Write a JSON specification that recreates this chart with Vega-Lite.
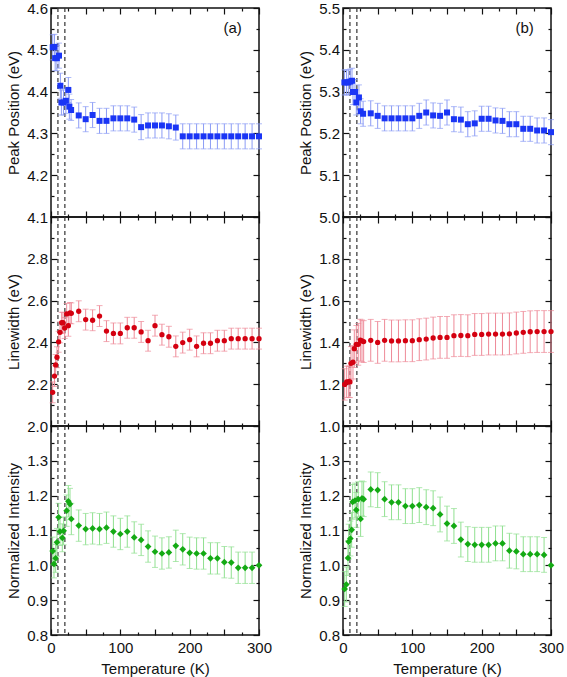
{
  "$schema": "https://vega.github.io/schema/vega-lite/v6.json",
  "background": "white",
  "padding": {"left": 5, "top": 0, "right": 10, "bottom": 0},
  "bounds": "flush",
  "columns": 2,
  "spacing": {"row": 0, "column": 84},
  "config": {
    "view": {"stroke": "#111", "strokeWidth": 1.5},
    "font": "Liberation Sans",
    "axis": {"labelFont": "Liberation Sans", "titleFont": "Liberation Sans", "labelFontSize": 15, "titleFontSize": 15, "titleFontWeight": "normal", "labelColor": "#111", "titleColor": "#111", "grid": false, "domain": false, "tickColor": "#111", "tickWidth": 1.2, "labelFlush": false, "labelOverlap": false},
    "text": {"font": "Liberation Sans"}
  },
  "datasets": {
    "lines": [{"T": 10}, {"T": 20}],
    "tag_a": [{"lbl": "(a)"}],
    "tag_b": [{"lbl": "(b)"}],
    "a_pos": [
      {"T": 2.5, "v": 4.506, "e": 0.03}, {"T": 5, "v": 4.507, "e": 0.03}, {"T": 6, "v": 4.48, "e": 0.03}, {"T": 8.5, "v": 4.48, "e": 0.03}, {"T": 11.5, "v": 4.486, "e": 0.03}, {"T": 13.5, "v": 4.414, "e": 0.03}, {"T": 15, "v": 4.374, "e": 0.03}, {"T": 18, "v": 4.374, "e": 0.03}, {"T": 21.5, "v": 4.378, "e": 0.03}, {"T": 25, "v": 4.404, "e": 0.03}, {"T": 26.5, "v": 4.364, "e": 0.03}, {"T": 29, "v": 4.356, "e": 0.025},
      {"T": 40, "v": 4.343, "e": 0.03}, {"T": 50, "v": 4.334, "e": 0.03}, {"T": 60, "v": 4.344, "e": 0.03}, {"T": 70, "v": 4.33, "e": 0.03}, {"T": 80, "v": 4.33, "e": 0.03}, {"T": 90, "v": 4.336, "e": 0.03}, {"T": 100, "v": 4.336, "e": 0.03}, {"T": 110, "v": 4.336, "e": 0.03}, {"T": 120, "v": 4.333, "e": 0.03}, {"T": 130, "v": 4.315, "e": 0.03}, {"T": 140, "v": 4.319, "e": 0.03}, {"T": 150, "v": 4.319, "e": 0.03}, {"T": 160, "v": 4.319, "e": 0.03}, {"T": 170, "v": 4.317, "e": 0.03}, {"T": 180, "v": 4.314, "e": 0.03}, {"T": 190, "v": 4.293, "e": 0.03}, {"T": 200, "v": 4.293, "e": 0.03}, {"T": 210, "v": 4.293, "e": 0.03}, {"T": 220, "v": 4.293, "e": 0.03}, {"T": 230, "v": 4.293, "e": 0.03}, {"T": 240, "v": 4.293, "e": 0.03}, {"T": 250, "v": 4.293, "e": 0.03}, {"T": 260, "v": 4.293, "e": 0.03}, {"T": 270, "v": 4.293, "e": 0.03}, {"T": 280, "v": 4.293, "e": 0.03}, {"T": 290, "v": 4.293, "e": 0.03}, {"T": 300, "v": 4.293, "e": 0.03}
    ],
    "b_pos": [
      {"T": 2, "v": 5.322, "e": 0.03}, {"T": 5, "v": 5.322, "e": 0.03}, {"T": 7.7, "v": 5.322, "e": 0.03}, {"T": 10.5, "v": 5.324, "e": 0.03}, {"T": 13, "v": 5.326, "e": 0.03}, {"T": 14.4, "v": 5.299, "e": 0.03}, {"T": 17.3, "v": 5.299, "e": 0.03}, {"T": 19.2, "v": 5.274, "e": 0.03}, {"T": 23, "v": 5.286, "e": 0.03}, {"T": 25.4, "v": 5.253, "e": 0.03}, {"T": 29, "v": 5.247, "e": 0.03},
      {"T": 40, "v": 5.248, "e": 0.03}, {"T": 50, "v": 5.242, "e": 0.03}, {"T": 60, "v": 5.236, "e": 0.03}, {"T": 70, "v": 5.236, "e": 0.03}, {"T": 80, "v": 5.236, "e": 0.03}, {"T": 90, "v": 5.236, "e": 0.03}, {"T": 100, "v": 5.236, "e": 0.03}, {"T": 110, "v": 5.242, "e": 0.03}, {"T": 120, "v": 5.25, "e": 0.03}, {"T": 130, "v": 5.243, "e": 0.03}, {"T": 140, "v": 5.242, "e": 0.03}, {"T": 150, "v": 5.25, "e": 0.03}, {"T": 160, "v": 5.234, "e": 0.03}, {"T": 170, "v": 5.233, "e": 0.03}, {"T": 180, "v": 5.222, "e": 0.03}, {"T": 190, "v": 5.224, "e": 0.03}, {"T": 200, "v": 5.235, "e": 0.03}, {"T": 210, "v": 5.235, "e": 0.03}, {"T": 220, "v": 5.231, "e": 0.03}, {"T": 230, "v": 5.23, "e": 0.03}, {"T": 240, "v": 5.222, "e": 0.03}, {"T": 250, "v": 5.222, "e": 0.03}, {"T": 260, "v": 5.211, "e": 0.03}, {"T": 270, "v": 5.211, "e": 0.03}, {"T": 280, "v": 5.207, "e": 0.03}, {"T": 290, "v": 5.207, "e": 0.03}, {"T": 300, "v": 5.203, "e": 0.03}
    ],
    "a_lw": [
      {"T": 2.4, "v": 2.161, "e": 0.05}, {"T": 5, "v": 2.239, "e": 0.05}, {"T": 6.7, "v": 2.292, "e": 0.05}, {"T": 8.6, "v": 2.329, "e": 0.05}, {"T": 11, "v": 2.403, "e": 0.05}, {"T": 13, "v": 2.448, "e": 0.05}, {"T": 15.4, "v": 2.494, "e": 0.05}, {"T": 17.3, "v": 2.494, "e": 0.05}, {"T": 19.7, "v": 2.469, "e": 0.05}, {"T": 22.6, "v": 2.536, "e": 0.05}, {"T": 25, "v": 2.48, "e": 0.05}, {"T": 27.4, "v": 2.541, "e": 0.05}, {"T": 29.3, "v": 2.539, "e": 0.05},
      {"T": 40, "v": 2.549, "e": 0.05}, {"T": 50, "v": 2.509, "e": 0.05}, {"T": 60, "v": 2.506, "e": 0.05}, {"T": 70, "v": 2.526, "e": 0.05}, {"T": 80, "v": 2.454, "e": 0.05}, {"T": 90, "v": 2.443, "e": 0.05}, {"T": 100, "v": 2.443, "e": 0.05}, {"T": 110, "v": 2.47, "e": 0.05}, {"T": 120, "v": 2.47, "e": 0.05}, {"T": 130, "v": 2.45, "e": 0.05}, {"T": 140, "v": 2.408, "e": 0.05}, {"T": 150, "v": 2.48, "e": 0.05}, {"T": 160, "v": 2.437, "e": 0.05}, {"T": 170, "v": 2.427, "e": 0.05}, {"T": 180, "v": 2.381, "e": 0.05}, {"T": 190, "v": 2.399, "e": 0.05}, {"T": 200, "v": 2.413, "e": 0.05}, {"T": 210, "v": 2.381, "e": 0.05}, {"T": 220, "v": 2.396, "e": 0.05}, {"T": 230, "v": 2.396, "e": 0.05}, {"T": 240, "v": 2.408, "e": 0.05}, {"T": 250, "v": 2.408, "e": 0.05}, {"T": 260, "v": 2.418, "e": 0.05}, {"T": 270, "v": 2.418, "e": 0.05}, {"T": 280, "v": 2.418, "e": 0.05}, {"T": 290, "v": 2.418, "e": 0.05}, {"T": 300, "v": 2.418, "e": 0.05}
    ],
    "b_lw": [
      {"T": 2.4, "v": 1.199, "e": 0.075}, {"T": 5.3, "v": 1.211, "e": 0.075}, {"T": 8.2, "v": 1.212, "e": 0.075}, {"T": 10, "v": 1.211, "e": 0.075}, {"T": 11.5, "v": 1.3, "e": 0.08}, {"T": 14.4, "v": 1.305, "e": 0.08}, {"T": 16.3, "v": 1.37, "e": 0.09}, {"T": 19.2, "v": 1.391, "e": 0.09}, {"T": 22, "v": 1.391, "e": 0.1}, {"T": 25, "v": 1.411, "e": 0.1}, {"T": 27.4, "v": 1.407, "e": 0.1}, {"T": 29.8, "v": 1.404, "e": 0.1},
      {"T": 40, "v": 1.41, "e": 0.1}, {"T": 50, "v": 1.4, "e": 0.1}, {"T": 60, "v": 1.41, "e": 0.1}, {"T": 70, "v": 1.407, "e": 0.1}, {"T": 80, "v": 1.407, "e": 0.1}, {"T": 90, "v": 1.408, "e": 0.1}, {"T": 100, "v": 1.408, "e": 0.1}, {"T": 110, "v": 1.413, "e": 0.1}, {"T": 120, "v": 1.416, "e": 0.1}, {"T": 130, "v": 1.421, "e": 0.1}, {"T": 140, "v": 1.424, "e": 0.1}, {"T": 150, "v": 1.424, "e": 0.1}, {"T": 160, "v": 1.432, "e": 0.1}, {"T": 170, "v": 1.433, "e": 0.1}, {"T": 180, "v": 1.432, "e": 0.1}, {"T": 190, "v": 1.438, "e": 0.1}, {"T": 200, "v": 1.438, "e": 0.1}, {"T": 210, "v": 1.44, "e": 0.1}, {"T": 220, "v": 1.44, "e": 0.1}, {"T": 230, "v": 1.44, "e": 0.1}, {"T": 240, "v": 1.441, "e": 0.1}, {"T": 250, "v": 1.445, "e": 0.1}, {"T": 260, "v": 1.448, "e": 0.1}, {"T": 270, "v": 1.451, "e": 0.1}, {"T": 280, "v": 1.452, "e": 0.1}, {"T": 290, "v": 1.452, "e": 0.1}, {"T": 300, "v": 1.452, "e": 0.1}
    ],
    "a_ni": [
      {"T": 2.4, "v": 1.041, "e": 0.04}, {"T": 4.3, "v": 1.004, "e": 0.04}, {"T": 6.7, "v": 1.02, "e": 0.04}, {"T": 8.6, "v": 1.066, "e": 0.04}, {"T": 11, "v": 1.138, "e": 0.04}, {"T": 13, "v": 1.097, "e": 0.04}, {"T": 16.3, "v": 1.079, "e": 0.04}, {"T": 18.2, "v": 1.099, "e": 0.04}, {"T": 22.6, "v": 1.157, "e": 0.045}, {"T": 25, "v": 1.184, "e": 0.045}, {"T": 27.4, "v": 1.176, "e": 0.045}, {"T": 29.3, "v": 1.133, "e": 0.045},
      {"T": 40, "v": 1.114, "e": 0.045}, {"T": 50, "v": 1.104, "e": 0.045}, {"T": 60, "v": 1.106, "e": 0.045}, {"T": 70, "v": 1.104, "e": 0.045}, {"T": 80, "v": 1.108, "e": 0.045}, {"T": 90, "v": 1.097, "e": 0.045}, {"T": 100, "v": 1.09, "e": 0.045}, {"T": 110, "v": 1.097, "e": 0.045}, {"T": 120, "v": 1.08, "e": 0.045}, {"T": 130, "v": 1.073, "e": 0.045}, {"T": 140, "v": 1.054, "e": 0.045}, {"T": 150, "v": 1.039, "e": 0.045}, {"T": 160, "v": 1.034, "e": 0.045}, {"T": 170, "v": 1.037, "e": 0.045}, {"T": 180, "v": 1.056, "e": 0.045}, {"T": 190, "v": 1.046, "e": 0.045}, {"T": 200, "v": 1.036, "e": 0.045}, {"T": 210, "v": 1.034, "e": 0.045}, {"T": 220, "v": 1.034, "e": 0.045}, {"T": 230, "v": 1.02, "e": 0.045}, {"T": 240, "v": 1.02, "e": 0.045}, {"T": 250, "v": 1.009, "e": 0.045}, {"T": 260, "v": 1.008, "e": 0.045}, {"T": 270, "v": 0.993, "e": 0.045}, {"T": 280, "v": 0.993, "e": 0.045}, {"T": 290, "v": 0.993, "e": 0.045}, {"T": 300, "v": 1.0, "e": 0}
    ],
    "b_ni": [
      {"T": 2.4, "v": 0.932, "e": 0.05}, {"T": 4.8, "v": 0.945, "e": 0.05}, {"T": 7.2, "v": 1.021, "e": 0.05}, {"T": 8.2, "v": 1.068, "e": 0.05}, {"T": 10.6, "v": 1.077, "e": 0.05}, {"T": 12.5, "v": 1.102, "e": 0.05}, {"T": 13.9, "v": 1.182, "e": 0.05}, {"T": 17.3, "v": 1.186, "e": 0.05}, {"T": 19.2, "v": 1.159, "e": 0.05}, {"T": 22, "v": 1.19, "e": 0.05}, {"T": 25.4, "v": 1.133, "e": 0.05}, {"T": 27.4, "v": 1.192, "e": 0.05}, {"T": 29.8, "v": 1.19, "e": 0.05},
      {"T": 40, "v": 1.218, "e": 0.05}, {"T": 50, "v": 1.216, "e": 0.05}, {"T": 60, "v": 1.19, "e": 0.05}, {"T": 70, "v": 1.181, "e": 0.05}, {"T": 80, "v": 1.181, "e": 0.05}, {"T": 90, "v": 1.17, "e": 0.05}, {"T": 100, "v": 1.17, "e": 0.05}, {"T": 110, "v": 1.173, "e": 0.05}, {"T": 120, "v": 1.167, "e": 0.05}, {"T": 130, "v": 1.164, "e": 0.05}, {"T": 140, "v": 1.146, "e": 0.05}, {"T": 150, "v": 1.12, "e": 0.05}, {"T": 160, "v": 1.113, "e": 0.05}, {"T": 170, "v": 1.074, "e": 0.05}, {"T": 180, "v": 1.061, "e": 0.05}, {"T": 190, "v": 1.059, "e": 0.05}, {"T": 200, "v": 1.059, "e": 0.05}, {"T": 210, "v": 1.059, "e": 0.05}, {"T": 220, "v": 1.063, "e": 0.05}, {"T": 230, "v": 1.063, "e": 0.05}, {"T": 240, "v": 1.042, "e": 0.05}, {"T": 250, "v": 1.04, "e": 0.05}, {"T": 260, "v": 1.032, "e": 0.05}, {"T": 270, "v": 1.032, "e": 0.05}, {"T": 280, "v": 1.032, "e": 0.05}, {"T": 290, "v": 1.03, "e": 0.05}, {"T": 300, "v": 1.0, "e": 0}
    ]
  },
  "concat": [
    {
      "width": 208, "height": 209,
      "data": {"name": "a_pos"},
      "resolve": {"axis": {"x": "independent", "y": "independent"}},
      "layer": [
        {"data": {"name": "lines"}, "mark": {"type": "rule", "strokeDash": [4, 3], "color": "#333", "strokeWidth": 1.2}, "encoding": {"x": {"field": "T", "type": "quantitative", "scale": {"domain": [0, 300]}, "axis": null}}},
        {"mark": {"type": "errorbar", "ticks": {"size": 6}, "color": "#8c9cf5"},
         "encoding": {
           "x": {"field": "T", "type": "quantitative", "scale": {"domain": [0, 300]}, "axis": {"orient": "bottom", "values": [0,25,50,75,100,125,150,175,200,225,250,275,300], "tickSize": {"condition": {"test": "datum.value % 50 === 0", "value": -6}, "value": -3}, "labels": false, "title": null}},
           "y": {"field": "v", "type": "quantitative", "scale": {"domain": [4.1, 4.6]}, "axis": {"orient": "left", "values": [4.1,4.15,4.2,4.25,4.3,4.35,4.4,4.45,4.5,4.55,4.6], "format": ".1f", "tickSize": {"condition": {"test": "abs(datum.value*10-round(datum.value*10))<0.001", "value": -6}, "value": -3}, "labelExpr": "abs(datum.value*10-round(datum.value*10))<0.001 ? datum.label : ''", "labelPadding": 9.5, "title": "Peak Position (eV)", "titlePadding": 5}},
           "yError": {"field": "e"}}},
        {"mark": {"type": "square", "size": 36, "color": "#1a35f5", "opacity": 1},
         "encoding": {
           "x": {"field": "T", "type": "quantitative", "axis": {"orient": "top", "values": [0,25,50,75,100,125,150,175,200,225,250,275,300], "tickSize": {"condition": {"test": "datum.value % 50 === 0", "value": -6}, "value": -3}, "labels": false, "title": null}},
           "y": {"field": "v", "type": "quantitative", "axis": {"orient": "right", "values": [4.1,4.15,4.2,4.25,4.3,4.35,4.4,4.45,4.5,4.55,4.6], "tickSize": {"condition": {"test": "abs(datum.value*10-round(datum.value*10))<0.001", "value": -6}, "value": -3}, "labels": false, "title": null}}}},
        {"data": {"name": "tag_a"}, "mark": {"type": "text", "fontSize": 15, "fontWeight": "normal", "color": "#111"},
         "encoding": {"x": {"datum": 262, "type": "quantitative", "axis": null}, "y": {"datum": 4.552, "type": "quantitative", "axis": null}, "text": {"field": "lbl"}}}
      ]
    },
    {
      "width": 208, "height": 209,
      "data": {"name": "b_pos"},
      "resolve": {"axis": {"x": "independent", "y": "independent"}},
      "layer": [
        {"data": {"name": "lines"}, "mark": {"type": "rule", "strokeDash": [4, 3], "color": "#333", "strokeWidth": 1.2}, "encoding": {"x": {"field": "T", "type": "quantitative", "scale": {"domain": [0, 300]}, "axis": null}}},
        {"mark": {"type": "errorbar", "ticks": {"size": 6}, "color": "#8c9cf5"},
         "encoding": {
           "x": {"field": "T", "type": "quantitative", "scale": {"domain": [0, 300]}, "axis": {"orient": "bottom", "values": [0,25,50,75,100,125,150,175,200,225,250,275,300], "tickSize": {"condition": {"test": "datum.value % 50 === 0", "value": -6}, "value": -3}, "labels": false, "title": null}},
           "y": {"field": "v", "type": "quantitative", "scale": {"domain": [5.0, 5.5]}, "axis": {"orient": "left", "values": [5.0,5.05,5.1,5.15,5.2,5.25,5.3,5.35,5.4,5.45,5.5], "format": ".1f", "tickSize": {"condition": {"test": "abs(datum.value*10-round(datum.value*10))<0.001", "value": -6}, "value": -3}, "labelExpr": "abs(datum.value*10-round(datum.value*10))<0.001 ? datum.label : ''", "labelPadding": 9.5, "title": "Peak Position (eV)", "titlePadding": 5}},
           "yError": {"field": "e"}}},
        {"mark": {"type": "square", "size": 36, "color": "#1a35f5", "opacity": 1},
         "encoding": {
           "x": {"field": "T", "type": "quantitative", "axis": {"orient": "top", "values": [0,25,50,75,100,125,150,175,200,225,250,275,300], "tickSize": {"condition": {"test": "datum.value % 50 === 0", "value": -6}, "value": -3}, "labels": false, "title": null}},
           "y": {"field": "v", "type": "quantitative", "axis": {"orient": "right", "values": [5.0,5.05,5.1,5.15,5.2,5.25,5.3,5.35,5.4,5.45,5.5], "tickSize": {"condition": {"test": "abs(datum.value*10-round(datum.value*10))<0.001", "value": -6}, "value": -3}, "labels": false, "title": null}}}},
        {"data": {"name": "tag_b"}, "mark": {"type": "text", "fontSize": 15, "fontWeight": "normal", "color": "#111"},
         "encoding": {"x": {"datum": 262, "type": "quantitative", "axis": null}, "y": {"datum": 5.452, "type": "quantitative", "axis": null}, "text": {"field": "lbl"}}}
      ]
    },
    {
      "width": 208, "height": 209,
      "data": {"name": "a_lw"},
      "resolve": {"axis": {"x": "independent", "y": "independent"}},
      "layer": [
        {"data": {"name": "lines"}, "mark": {"type": "rule", "strokeDash": [4, 3], "color": "#333", "strokeWidth": 1.2}, "encoding": {"x": {"field": "T", "type": "quantitative", "scale": {"domain": [0, 300]}, "axis": null}}},
        {"mark": {"type": "errorbar", "ticks": {"size": 6}, "color": "#ee8a98"},
         "encoding": {
           "x": {"field": "T", "type": "quantitative", "scale": {"domain": [0, 300]}, "axis": {"orient": "bottom", "values": [0,25,50,75,100,125,150,175,200,225,250,275,300], "tickSize": {"condition": {"test": "datum.value % 50 === 0", "value": -6}, "value": -3}, "labels": false, "title": null}},
           "y": {"field": "v", "type": "quantitative", "scale": {"domain": [2.0, 3.0]}, "axis": {"orient": "left", "values": [2.0,2.1,2.2,2.3,2.4,2.5,2.6,2.7,2.8,2.9,3.0], "format": ".1f", "tickSize": {"condition": {"test": "abs(datum.value*5-round(datum.value*5))<0.001", "value": -6}, "value": -3}, "labelExpr": "abs(datum.value*5-round(datum.value*5))<0.001 && datum.value < 2.95 ? datum.label : ''", "labelPadding": 9.5, "title": "Linewidth (eV)", "titlePadding": 5}},
           "yError": {"field": "e"}}},
        {"mark": {"type": "circle", "size": 28, "color": "#d40010", "opacity": 1},
         "encoding": {
           "x": {"field": "T", "type": "quantitative", "axis": {"orient": "top", "values": [0,25,50,75,100,125,150,175,200,225,250,275,300], "tickSize": {"condition": {"test": "datum.value % 50 === 0", "value": -6}, "value": -3}, "labels": false, "title": null}},
           "y": {"field": "v", "type": "quantitative", "axis": {"orient": "right", "values": [2.0,2.1,2.2,2.3,2.4,2.5,2.6,2.7,2.8,2.9,3.0], "tickSize": {"condition": {"test": "abs(datum.value*5-round(datum.value*5))<0.001", "value": -6}, "value": -3}, "labels": false, "title": null}}}}
      ]
    },
    {
      "width": 208, "height": 209,
      "data": {"name": "b_lw"},
      "resolve": {"axis": {"x": "independent", "y": "independent"}},
      "layer": [
        {"data": {"name": "lines"}, "mark": {"type": "rule", "strokeDash": [4, 3], "color": "#333", "strokeWidth": 1.2}, "encoding": {"x": {"field": "T", "type": "quantitative", "scale": {"domain": [0, 300]}, "axis": null}}},
        {"mark": {"type": "errorbar", "ticks": {"size": 6}, "color": "#ee8a98"},
         "encoding": {
           "x": {"field": "T", "type": "quantitative", "scale": {"domain": [0, 300]}, "axis": {"orient": "bottom", "values": [0,25,50,75,100,125,150,175,200,225,250,275,300], "tickSize": {"condition": {"test": "datum.value % 50 === 0", "value": -6}, "value": -3}, "labels": false, "title": null}},
           "y": {"field": "v", "type": "quantitative", "scale": {"domain": [1.0, 2.0]}, "axis": {"orient": "left", "values": [1.0,1.1,1.2,1.3,1.4,1.5,1.6,1.7,1.8,1.9,2.0], "format": ".1f", "tickSize": {"condition": {"test": "abs(datum.value*5-round(datum.value*5))<0.001", "value": -6}, "value": -3}, "labelExpr": "abs(datum.value*5-round(datum.value*5))<0.001 && datum.value < 1.95 ? datum.label : ''", "labelPadding": 9.5, "title": "Linewidth (eV)", "titlePadding": 5}},
           "yError": {"field": "e"}}},
        {"mark": {"type": "circle", "size": 28, "color": "#d40010", "opacity": 1},
         "encoding": {
           "x": {"field": "T", "type": "quantitative", "axis": {"orient": "top", "values": [0,25,50,75,100,125,150,175,200,225,250,275,300], "tickSize": {"condition": {"test": "datum.value % 50 === 0", "value": -6}, "value": -3}, "labels": false, "title": null}},
           "y": {"field": "v", "type": "quantitative", "axis": {"orient": "right", "values": [1.0,1.1,1.2,1.3,1.4,1.5,1.6,1.7,1.8,1.9,2.0], "tickSize": {"condition": {"test": "abs(datum.value*5-round(datum.value*5))<0.001", "value": -6}, "value": -3}, "labels": false, "title": null}}}}
      ]
    },
    {
      "width": 208, "height": 209,
      "data": {"name": "a_ni"},
      "resolve": {"axis": {"x": "independent", "y": "independent"}},
      "layer": [
        {"data": {"name": "lines"}, "mark": {"type": "rule", "strokeDash": [4, 3], "color": "#333", "strokeWidth": 1.2}, "encoding": {"x": {"field": "T", "type": "quantitative", "scale": {"domain": [0, 300]}, "axis": null}}},
        {"mark": {"type": "errorbar", "ticks": {"size": 6}, "color": "#90e090"},
         "encoding": {
           "x": {"field": "T", "type": "quantitative", "scale": {"domain": [0, 300]}, "axis": {"orient": "bottom", "values": [0,25,50,75,100,125,150,175,200,225,250,275,300], "tickSize": {"condition": {"test": "datum.value % 50 === 0", "value": -6}, "value": -3}, "labelExpr": "datum.value % 100 === 0 ? datum.label : ''", "labelPadding": 11, "title": "Temperature (K)", "titlePadding": 3}},
           "y": {"field": "v", "type": "quantitative", "scale": {"domain": [0.8, 1.4]}, "axis": {"orient": "left", "values": [0.8,0.85,0.9,0.95,1.0,1.05,1.1,1.15,1.2,1.25,1.3,1.35,1.4], "format": ".1f", "tickSize": {"condition": {"test": "abs(datum.value*10-round(datum.value*10))<0.001", "value": -6}, "value": -3}, "labelExpr": "abs(datum.value*10-round(datum.value*10))<0.001 && datum.value < 1.35 ? datum.label : ''", "labelPadding": 9.5, "title": "Normalized Intensity", "titlePadding": 5}},
           "yError": {"field": "e"}}},
        {"mark": {"type": "point", "shape": "diamond", "filled": true, "size": 45, "color": "#14aa14", "opacity": 1},
         "encoding": {
           "x": {"field": "T", "type": "quantitative", "axis": {"orient": "top", "values": [0,25,50,75,100,125,150,175,200,225,250,275,300], "tickSize": {"condition": {"test": "datum.value % 50 === 0", "value": -6}, "value": -3}, "labels": false, "title": null}},
           "y": {"field": "v", "type": "quantitative", "axis": {"orient": "right", "values": [0.8,0.85,0.9,0.95,1.0,1.05,1.1,1.15,1.2,1.25,1.3,1.35,1.4], "tickSize": {"condition": {"test": "abs(datum.value*10-round(datum.value*10))<0.001", "value": -6}, "value": -3}, "labels": false, "title": null}}}}
      ]
    },
    {
      "width": 208, "height": 209,
      "data": {"name": "b_ni"},
      "resolve": {"axis": {"x": "independent", "y": "independent"}},
      "layer": [
        {"data": {"name": "lines"}, "mark": {"type": "rule", "strokeDash": [4, 3], "color": "#333", "strokeWidth": 1.2}, "encoding": {"x": {"field": "T", "type": "quantitative", "scale": {"domain": [0, 300]}, "axis": null}}},
        {"mark": {"type": "errorbar", "ticks": {"size": 6}, "color": "#90e090"},
         "encoding": {
           "x": {"field": "T", "type": "quantitative", "scale": {"domain": [0, 300]}, "axis": {"orient": "bottom", "values": [0,25,50,75,100,125,150,175,200,225,250,275,300], "tickSize": {"condition": {"test": "datum.value % 50 === 0", "value": -6}, "value": -3}, "labelExpr": "datum.value % 100 === 0 ? datum.label : ''", "labelPadding": 11, "title": "Temperature (K)", "titlePadding": 3}},
           "y": {"field": "v", "type": "quantitative", "scale": {"domain": [0.8, 1.4]}, "axis": {"orient": "left", "values": [0.8,0.85,0.9,0.95,1.0,1.05,1.1,1.15,1.2,1.25,1.3,1.35,1.4], "format": ".1f", "tickSize": {"condition": {"test": "abs(datum.value*10-round(datum.value*10))<0.001", "value": -6}, "value": -3}, "labelExpr": "abs(datum.value*10-round(datum.value*10))<0.001 && datum.value < 1.35 ? datum.label : ''", "labelPadding": 9.5, "title": "Normalized Intensity", "titlePadding": 5}},
           "yError": {"field": "e"}}},
        {"mark": {"type": "point", "shape": "diamond", "filled": true, "size": 45, "color": "#14aa14", "opacity": 1},
         "encoding": {
           "x": {"field": "T", "type": "quantitative", "axis": {"orient": "top", "values": [0,25,50,75,100,125,150,175,200,225,250,275,300], "tickSize": {"condition": {"test": "datum.value % 50 === 0", "value": -6}, "value": -3}, "labels": false, "title": null}},
           "y": {"field": "v", "type": "quantitative", "axis": {"orient": "right", "values": [0.8,0.85,0.9,0.95,1.0,1.05,1.1,1.15,1.2,1.25,1.3,1.35,1.4], "tickSize": {"condition": {"test": "abs(datum.value*10-round(datum.value*10))<0.001", "value": -6}, "value": -3}, "labels": false, "title": null}}}}
      ]
    }
  ]
}
